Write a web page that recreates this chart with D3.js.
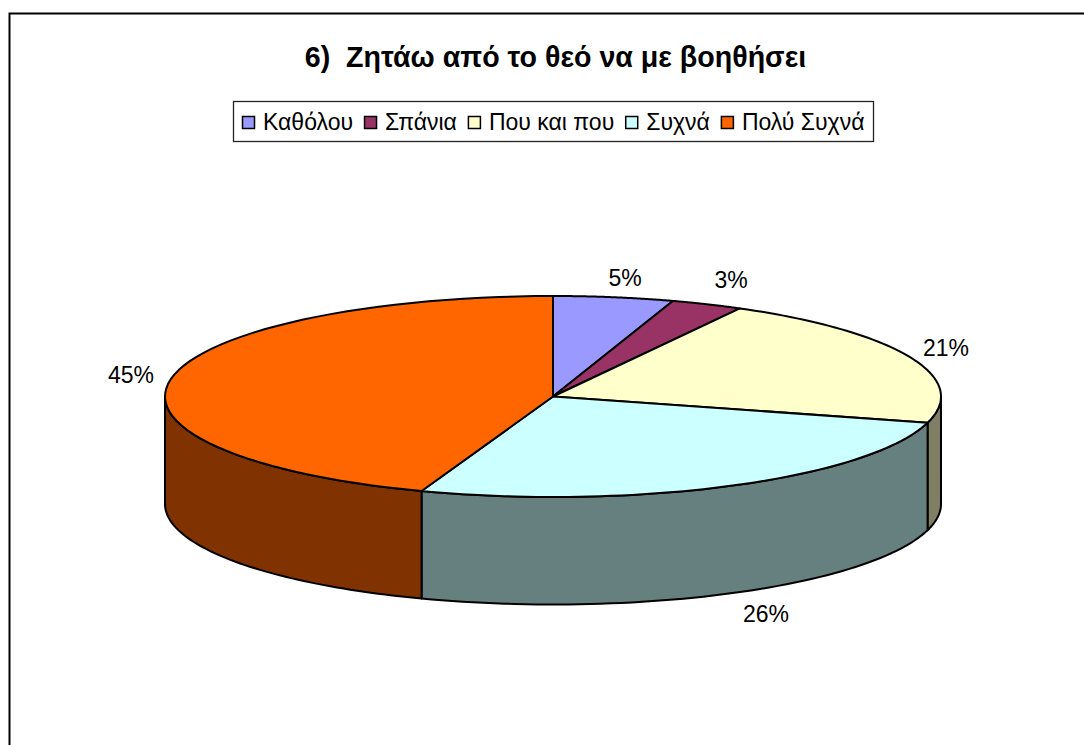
<!DOCTYPE html>
<html><head><meta charset="utf-8">
<script src="https://cdn.jsdelivr.net/npm/d3@7"></script>
<style>html,body{margin:0;padding:0;background:#fff}svg{display:block}text{font-family:"Liberation Sans",Arial,sans-serif;fill:#000}</style>
</head><body><svg id="c" width="1084" height="745"></svg>
<script>
const titleText = "6)  Ζητάω από το θεό να με βοηθήσει";
const categories = ["Καθόλου","Σπάνια","Που και που","Συχνά","Πολύ Συχνά"];
const values = [5, 3, 21.2, 26.3, 44.5];
const labels = ["5%","3%","21%","26%","45%"];
const topColors = ["#9999ff","#993366","#ffffcc","#ccffff","#ff6600"];
const sideColors = ["#666680","#662244","#807F66","#667f7f","#803300"];
const labelAnchors = [[625,278],[731,280],[946,348],[766,614],[131,375]];

const W=1084,H=745,cx=553,cy=396.5,rx=388,ry=100.5,depth=107.5;
const svg=d3.select("#c");
svg.append("path").attr("d",`M9.5,${H}V13.5H${W}`).attr("fill","none").attr("stroke","#000").attr("stroke-width",2);

svg.append("text").attr("x",555.5).attr("y",67).attr("text-anchor","middle")
  .attr("font-size",28.6).attr("font-weight","bold").attr("xml:space","preserve").style("white-space","pre").text(titleText);

// legend
const lg=svg.append("g");
lg.append("rect").attr("x",233.5).attr("y",101.5).attr("width",640).attr("height",40).attr("fill","#fff").attr("stroke","#222").attr("stroke-width",1.3);
let lx=242.5;
categories.forEach((c,i)=>{
  lg.append("rect").attr("x",lx).attr("y",116.5).attr("width",12).attr("height",12).attr("fill",topColors[i]).attr("stroke","#000").attr("stroke-width",1.5);
  const t=lg.append("text").attr("x",lx+20.5).attr("y",129.5).attr("font-size",23).text(c);
  lx+=20.5+t.node().getComputedTextLength()+11.5;
});

// pie geometry
const pie=d3.pie().sort(null).value(d=>d).startAngle(0).endAngle(2*Math.PI);
const arcs=pie(values);
const px=a=>cx+rx*Math.sin(a), py=a=>cy-ry*Math.cos(a);
const arcPts=(a0,a1,dy=0)=>d3.range(0,61).map(k=>{const a=a0+(a1-a0)*k/60;return [px(a),py(a)+dy];});
const line=d3.line();

// walls: front half only, back to front
arcs.forEach((d,i)=>{
  const a0=Math.max(d.startAngle,Math.PI/2), a1=Math.min(d.endAngle,3*Math.PI/2);
  if(a1<=a0) return;
  const pts=arcPts(a0,a1,0).concat(arcPts(a0,a1,depth).reverse());
  svg.append("path").attr("d",line(pts)+"Z").attr("fill",sideColors[i]).attr("stroke","#000").attr("stroke-width",2).attr("stroke-linejoin","round");
});
// tops
arcs.forEach((d,i)=>{
  const pts=[[cx,cy]].concat(arcPts(d.startAngle,d.endAngle));
  svg.append("path").attr("d",line(pts)+"Z").attr("fill",topColors[i]).attr("stroke","#000").attr("stroke-width",2).attr("stroke-linejoin","round");
});
// labels
labels.forEach((l,i)=>{
  svg.append("text").attr("x",labelAnchors[i][0]).attr("y",labelAnchors[i][1]+8).attr("text-anchor","middle").attr("font-size",23).attr("fill","#111").text(l);
});
</script></body></html>
